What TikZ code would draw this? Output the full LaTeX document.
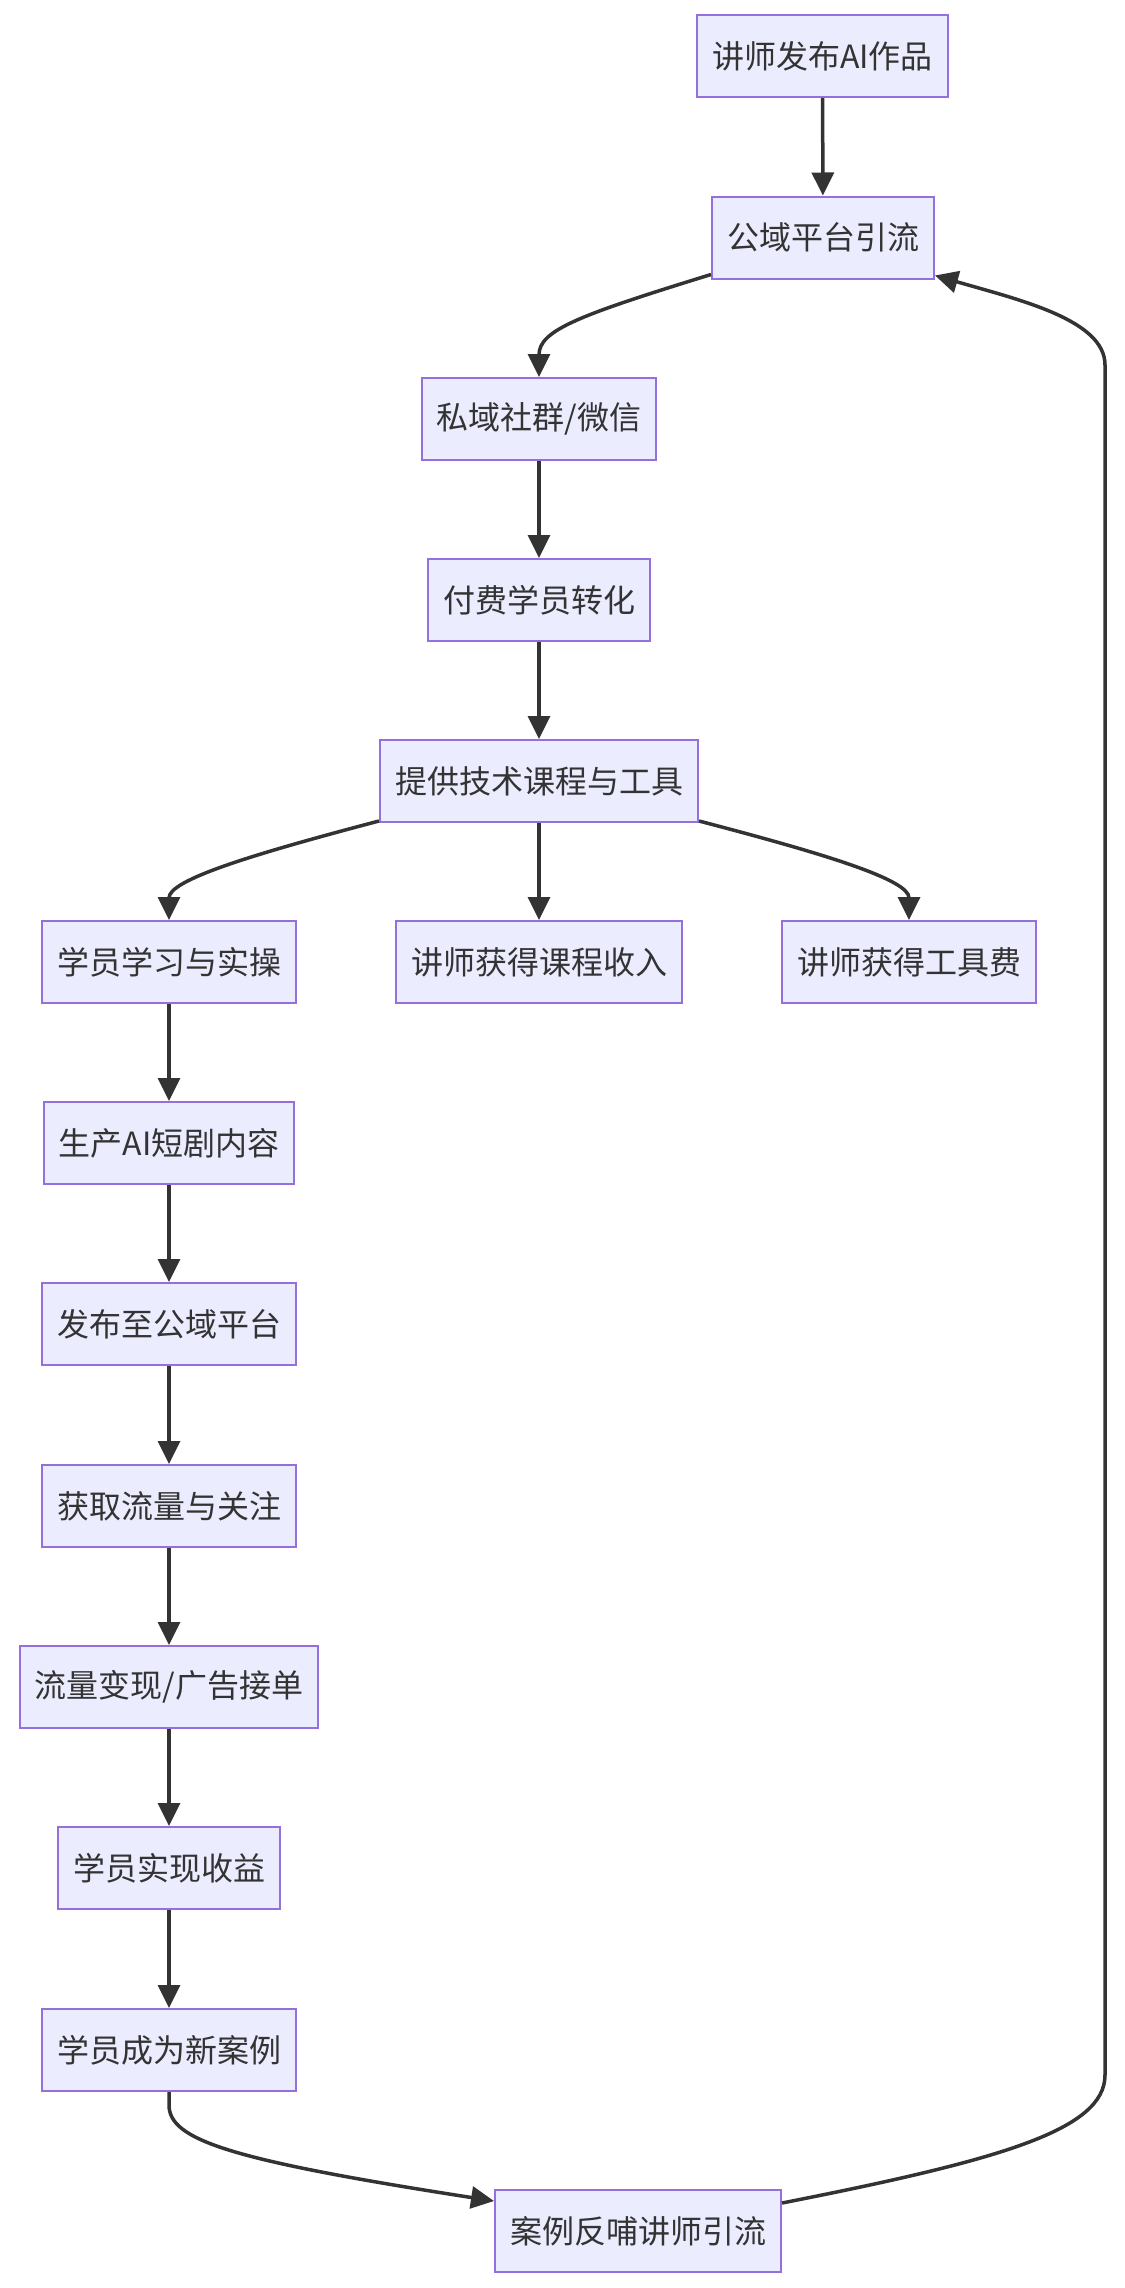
\documentclass[tikz,border=0pt]{standalone}
\usepackage{fontspec}
\setmainfont{Noto Sans CJK SC}
\usetikzlibrary{arrows.meta}
\definecolor{nfill}{HTML}{ECECFF}
\definecolor{nstroke}{HTML}{9370DB}
\definecolor{ntext}{HTML}{333333}
\begin{document}
\begin{tikzpicture}[x=1pt,y=-1pt,
  box/.style={draw=nstroke, fill=nfill, line width=2pt, text=ntext,
    font=\fontsize{32}{38}\selectfont, inner xsep=15pt, inner ysep=0pt,
    minimum height=82pt},
  edge/.style={draw=ntext, line width=3.5pt, -{Triangle[length=23pt,width=22pt]}}]
\useasboundingbox (0,0) rectangle (1124,2288);
\fill[white] (0,0) rectangle (1124,2288);

\node[box] (n1) at (822.5,56) {讲师发布AI作品};
\node[box] (n2) at (823,237.5) {公域平台引流};
\node[box] (n3) at (539,419) {私域社群/微信};
\node[box] (n4) at (539,600) {付费学员转化};
\node[box] (n5) at (539,781) {提供技术课程与工具};
\node[box] (n6) at (169,962) {学员学习与实操};
\node[box] (n7) at (539,962) {讲师获得课程收入};
\node[box] (n8) at (909,962) {讲师获得工具费};
\node[box] (n9) at (169,1143) {生产AI短剧内容};
\node[box] (n10) at (169,1324) {发布至公域平台};
\node[box] (n11) at (169,1506) {获取流量与关注};
\node[box] (n12) at (169,1687) {流量变现/广告接单};
\node[box] (n13) at (169,1868) {学员实现收益};
\node[box] (n14) at (169,2050) {学员成为新案例};
\node[box] (n15) at (638,2231) {案例反哺讲师引流};

\draw[edge] (n1) -- (n2);
\draw[edge] ([yshift=5pt]n2.south west) .. controls (580,315) and (539,330) .. (n3.north);
\draw[edge] (n3) -- (n4);
\draw[edge] (n4) -- (n5);
\draw[edge] ([yshift=2pt]n5.south west) .. controls (250,855) and (169,880) .. (n6.north);
\draw[edge] (n5) -- (n7);
\draw[edge] ([yshift=2pt]n5.south east) .. controls (829,855) and (909,880) .. (n8.north);
\draw[edge] (n6) -- (n9);
\draw[edge] (n9) -- (n10);
\draw[edge] (n10) -- (n11);
\draw[edge] (n11) -- (n12);
\draw[edge] (n12) -- (n13);
\draw[edge] (n13) -- (n14);
\draw[edge] (n14.south) -- (169,2105) .. controls (169,2140) and (230,2160) .. ([yshift=-12pt]n15.north west);
\draw[edge] ([yshift=-14pt]n15.north east) .. controls (1000,2160) and (1105,2130) .. (1105,2075)
  -- (1105,365) .. controls (1105,320) and (1020,300) .. ([yshift=4pt]n2.south east);
\end{tikzpicture}
\end{document}
